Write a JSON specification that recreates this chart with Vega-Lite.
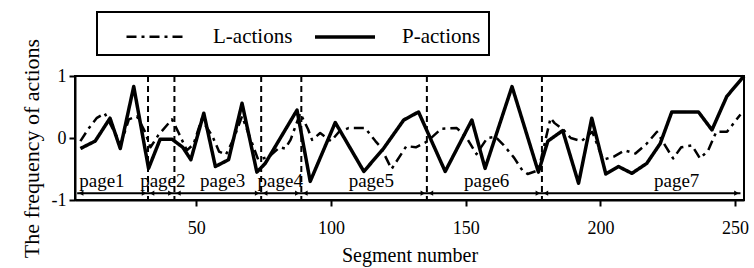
{
  "$schema": "https://vega.github.io/schema/vega-lite/v6.json",
  "width": 669,
  "height": 124,
  "autosize": "none",
  "padding": {"left": 75, "top": 76, "right": 10, "bottom": 68},
  "background": "white",
  "config": {
    "view": {"stroke": "black", "strokeWidth": 2},
    "font": "Liberation Serif",
    "style": {
      "guide-label": {"font": "Liberation Serif", "fill": "black"},
      "guide-title": {"font": "Liberation Serif", "fill": "black", "fontWeight": "normal"}
    },
    "axis": {
      "domainColor": "black", "domainWidth": 2, "tickColor": "black", "tickWidth": 2, "tickSize": 6,
      "labelColor": "black", "labelFont": "Liberation Serif", "labelFontSize": 18,
      "titleFont": "Liberation Serif", "titleFontSize": 20, "titleFontWeight": "normal", "titleColor": "black",
      "grid": false
    }
  },
  "datasets": {
    "lines": [
      {"series": "L-actions", "seg": 7, "freq": -0.05}, {"series": "L-actions", "seg": 10, "freq": 0.15},
      {"series": "L-actions", "seg": 13, "freq": 0.32}, {"series": "L-actions", "seg": 16, "freq": 0.4},
      {"series": "L-actions", "seg": 19, "freq": 0.15}, {"series": "L-actions", "seg": 22, "freq": -0.1},
      {"series": "L-actions", "seg": 25, "freq": 0.3}, {"series": "L-actions", "seg": 28, "freq": 0.35},
      {"series": "L-actions", "seg": 31, "freq": 0.1}, {"series": "L-actions", "seg": 33, "freq": -0.15},
      {"series": "L-actions", "seg": 36, "freq": 0.05}, {"series": "L-actions", "seg": 41, "freq": 0.3},
      {"series": "L-actions", "seg": 43.5, "freq": 0.08}, {"series": "L-actions", "seg": 46.5, "freq": -0.2},
      {"series": "L-actions", "seg": 49, "freq": -0.1}, {"series": "L-actions", "seg": 52, "freq": 0.3},
      {"series": "L-actions", "seg": 56, "freq": 0.03}, {"series": "L-actions", "seg": 58.5, "freq": -0.22},
      {"series": "L-actions", "seg": 61, "freq": -0.27}, {"series": "L-actions", "seg": 64, "freq": 0.0},
      {"series": "L-actions", "seg": 67, "freq": 0.35}, {"series": "L-actions", "seg": 70, "freq": 0.0},
      {"series": "L-actions", "seg": 73, "freq": -0.35}, {"series": "L-actions", "seg": 77, "freq": -0.3},
      {"series": "L-actions", "seg": 81, "freq": -0.15}, {"series": "L-actions", "seg": 83, "freq": -0.17},
      {"series": "L-actions", "seg": 85, "freq": -0.03}, {"series": "L-actions", "seg": 88.6, "freq": 0.4},
      {"series": "L-actions", "seg": 91.5, "freq": 0.14}, {"series": "L-actions", "seg": 93, "freq": -0.03},
      {"series": "L-actions", "seg": 96, "freq": 0.08}, {"series": "L-actions", "seg": 100, "freq": -0.05},
      {"series": "L-actions", "seg": 103, "freq": 0.1}, {"series": "L-actions", "seg": 106.5, "freq": 0.16},
      {"series": "L-actions", "seg": 112.7, "freq": 0.16}, {"series": "L-actions", "seg": 116.5, "freq": -0.05},
      {"series": "L-actions", "seg": 118.5, "freq": -0.15}, {"series": "L-actions", "seg": 122.5, "freq": -0.5},
      {"series": "L-actions", "seg": 128, "freq": -0.13}, {"series": "L-actions", "seg": 131.5, "freq": -0.15},
      {"series": "L-actions", "seg": 135.6, "freq": -0.06}, {"series": "L-actions", "seg": 141, "freq": 0.15},
      {"series": "L-actions", "seg": 146.7, "freq": 0.16}, {"series": "L-actions", "seg": 150, "freq": 0.03},
      {"series": "L-actions", "seg": 154, "freq": -0.26}, {"series": "L-actions", "seg": 158, "freq": 0.0},
      {"series": "L-actions", "seg": 161, "freq": 0.02}, {"series": "L-actions", "seg": 164, "freq": -0.11},
      {"series": "L-actions", "seg": 168, "freq": -0.32}, {"series": "L-actions", "seg": 171, "freq": -0.52},
      {"series": "L-actions", "seg": 173, "freq": -0.58}, {"series": "L-actions", "seg": 177, "freq": -0.52},
      {"series": "L-actions", "seg": 181.5, "freq": 0.32}, {"series": "L-actions", "seg": 183, "freq": 0.24},
      {"series": "L-actions", "seg": 186.3, "freq": 0.13}, {"series": "L-actions", "seg": 189, "freq": 0.0},
      {"series": "L-actions", "seg": 193, "freq": -0.05}, {"series": "L-actions", "seg": 197, "freq": 0.1},
      {"series": "L-actions", "seg": 201, "freq": -0.35}, {"series": "L-actions", "seg": 205, "freq": -0.3},
      {"series": "L-actions", "seg": 209, "freq": -0.2}, {"series": "L-actions", "seg": 213, "freq": -0.25},
      {"series": "L-actions", "seg": 217, "freq": -0.1}, {"series": "L-actions", "seg": 221, "freq": 0.1},
      {"series": "L-actions", "seg": 224, "freq": -0.12}, {"series": "L-actions", "seg": 227, "freq": -0.33},
      {"series": "L-actions", "seg": 230, "freq": -0.15}, {"series": "L-actions", "seg": 234, "freq": -0.12},
      {"series": "L-actions", "seg": 237, "freq": -0.33}, {"series": "L-actions", "seg": 240, "freq": -0.2},
      {"series": "L-actions", "seg": 243, "freq": 0.1}, {"series": "L-actions", "seg": 247, "freq": 0.1},
      {"series": "L-actions", "seg": 252, "freq": 0.38},
      {"series": "P-actions", "seg": 7, "freq": -0.17}, {"series": "P-actions", "seg": 12.5, "freq": -0.05},
      {"series": "P-actions", "seg": 18, "freq": 0.32}, {"series": "P-actions", "seg": 21.8, "freq": -0.17},
      {"series": "P-actions", "seg": 26.8, "freq": 0.83}, {"series": "P-actions", "seg": 32.3, "freq": -0.49},
      {"series": "P-actions", "seg": 36.6, "freq": -0.02}, {"series": "P-actions", "seg": 41, "freq": -0.02},
      {"series": "P-actions", "seg": 45, "freq": -0.15}, {"series": "P-actions", "seg": 48, "freq": -0.35},
      {"series": "P-actions", "seg": 52.8, "freq": 0.4}, {"series": "P-actions", "seg": 57.1, "freq": -0.46},
      {"series": "P-actions", "seg": 62, "freq": -0.35}, {"series": "P-actions", "seg": 67, "freq": 0.56},
      {"series": "P-actions", "seg": 72.5, "freq": -0.55}, {"series": "P-actions", "seg": 75.6, "freq": -0.41},
      {"series": "P-actions", "seg": 87.4, "freq": 0.45}, {"series": "P-actions", "seg": 92.3, "freq": -0.7},
      {"series": "P-actions", "seg": 101.6, "freq": 0.25}, {"series": "P-actions", "seg": 112.2, "freq": -0.54},
      {"series": "P-actions", "seg": 119.5, "freq": -0.17}, {"series": "P-actions", "seg": 127, "freq": 0.29},
      {"series": "P-actions", "seg": 132.5, "freq": 0.42}, {"series": "P-actions", "seg": 142.4, "freq": -0.54},
      {"series": "P-actions", "seg": 152.3, "freq": 0.29}, {"series": "P-actions", "seg": 157.2, "freq": -0.49},
      {"series": "P-actions", "seg": 167.2, "freq": 0.83}, {"series": "P-actions", "seg": 177, "freq": -0.55},
      {"series": "P-actions", "seg": 180.5, "freq": -0.05}, {"series": "P-actions", "seg": 186, "freq": 0.12},
      {"series": "P-actions", "seg": 191.9, "freq": -0.73}, {"series": "P-actions", "seg": 196.8, "freq": 0.32},
      {"series": "P-actions", "seg": 202, "freq": -0.58}, {"series": "P-actions", "seg": 206.7, "freq": -0.46},
      {"series": "P-actions", "seg": 211.7, "freq": -0.57}, {"series": "P-actions", "seg": 217.2, "freq": -0.41},
      {"series": "P-actions", "seg": 222.2, "freq": -0.09}, {"series": "P-actions", "seg": 226.5, "freq": 0.42},
      {"series": "P-actions", "seg": 236.4, "freq": 0.42}, {"series": "P-actions", "seg": 241.4, "freq": 0.13},
      {"series": "P-actions", "seg": 246.9, "freq": 0.67}, {"series": "P-actions", "seg": 253.3, "freq": 1.0}
    ],
    "bounds": [
      {"seg": 32.1}, {"seg": 41.9}, {"seg": 74.1}, {"seg": 89.0}, {"seg": 135.6}, {"seg": 178.3}
    ],
    "heads": [
      {"seg": 5.8, "dir": "left"},
      {"seg": 32.1, "dir": "right"}, {"seg": 32.1, "dir": "left"},
      {"seg": 41.9, "dir": "right"}, {"seg": 41.9, "dir": "left"},
      {"seg": 74.1, "dir": "right"}, {"seg": 74.1, "dir": "left"},
      {"seg": 89.0, "dir": "right"}, {"seg": 89.0, "dir": "left"},
      {"seg": 135.6, "dir": "right"}, {"seg": 135.6, "dir": "left"},
      {"seg": 178.3, "dir": "right"}, {"seg": 178.3, "dir": "left"},
      {"seg": 252.0, "dir": "right"}
    ],
    "pages": [
      {"page": "page1", "seg": 15}, {"page": "page2", "seg": 37.6}, {"page": "page3", "seg": 59.8},
      {"page": "page4", "seg": 81.2}, {"page": "page5", "seg": 115}, {"page": "page6", "seg": 157.8},
      {"page": "page7", "seg": 228.3}
    ]
  },
  "layer": [
    {
      "data": {"name": "bounds"},
      "mark": {"type": "rule", "color": "black", "strokeWidth": 2, "strokeDash": [6, 4]},
      "encoding": {
        "x": {"field": "seg", "type": "quantitative", "scale": {"domain": [5, 253.3], "nice": false, "zero": false},
              "axis": {"values": [50, 100, 150, 200, 250], "title": "Segment number", "labelPadding": 13, "titlePadding": 8,
                       "labelFont": "Liberation Serif", "titleFont": "Liberation Serif"}}
      }
    },
    {
      "data": {"values": [{}]},
      "mark": {"type": "rule", "color": "black", "strokeWidth": 2},
      "encoding": {
        "x": {"datum": 5.8, "type": "quantitative"},
        "x2": {"datum": 252},
        "y": {"datum": -0.89, "type": "quantitative"}
      }
    },
    {
      "data": {"name": "heads"},
      "transform": [{"filter": "datum.dir === 'right'"}],
      "mark": {"type": "point", "shape": "triangle-right", "filled": true, "color": "black", "size": 28, "opacity": 1, "xOffset": -4},
      "encoding": {
        "x": {"field": "seg", "type": "quantitative"},
        "y": {"datum": -0.89, "type": "quantitative"}
      }
    },
    {
      "data": {"name": "heads"},
      "transform": [{"filter": "datum.dir === 'left'"}],
      "mark": {"type": "point", "shape": "triangle-left", "filled": true, "color": "black", "size": 28, "opacity": 1, "xOffset": 4},
      "encoding": {
        "x": {"field": "seg", "type": "quantitative"},
        "y": {"datum": -0.89, "type": "quantitative"}
      }
    },
    {
      "data": {"name": "pages"},
      "mark": {"type": "text", "font": "Liberation Serif", "fontSize": 19, "color": "black", "baseline": "alphabetic", "align": "center"},
      "encoding": {
        "x": {"field": "seg", "type": "quantitative"},
        "y": {"datum": -0.785, "type": "quantitative"},
        "text": {"field": "page"}
      }
    },
    {
      "data": {"name": "lines"},
      "mark": {"type": "line", "color": "black", "strokeJoin": "round", "strokeCap": "butt"},
      "encoding": {
        "x": {"field": "seg", "type": "quantitative"},
        "y": {"field": "freq", "type": "quantitative", "scale": {"domain": [-1, 1], "nice": false},
              "axis": {"values": [-1, -0.5, 0, 0.5, 1], "labelExpr": "toString(datum.value)", "title": "The frequency of actions",
                       "labelPadding": 3, "titlePadding": 8, "titleFontSize": 22, "titleY": 72,
                       "labelFont": "Liberation Serif", "titleFont": "Liberation Serif"}},
        "strokeDash": {"field": "series", "type": "nominal",
          "scale": {"domain": ["L-actions", "P-actions"], "range": [[10, 5, 3, 5], [1, 0]]},
          "legend": {
            "orient": "none", "legendX": 22, "legendY": -64, "direction": "horizontal", "title": null,
            "symbolType": "M-2,0H2", "symbolSize": 900, "symbolStrokeWidth": 4, "symbolStrokeColor": "black",
            "symbolOffset": 35,
            "labelExpr": "datum.label == 'P-actions' ? datum.label + '     ' : datum.label",
            "labelFont": "Liberation Serif", "labelFontSize": 21, "labelColor": "black", "labelOffset": 40,
            "columnPadding": 0, "padding": 8, "strokeColor": "black",
            "encode": {"legend": {"update": {"strokeWidth": {"value": 2}}}}
          }},
        "strokeWidth": {"field": "series", "type": "nominal",
          "scale": {"domain": ["L-actions", "P-actions"], "range": [2.5, 3.5]}, "legend": null}
      }
    }
  ]
}
